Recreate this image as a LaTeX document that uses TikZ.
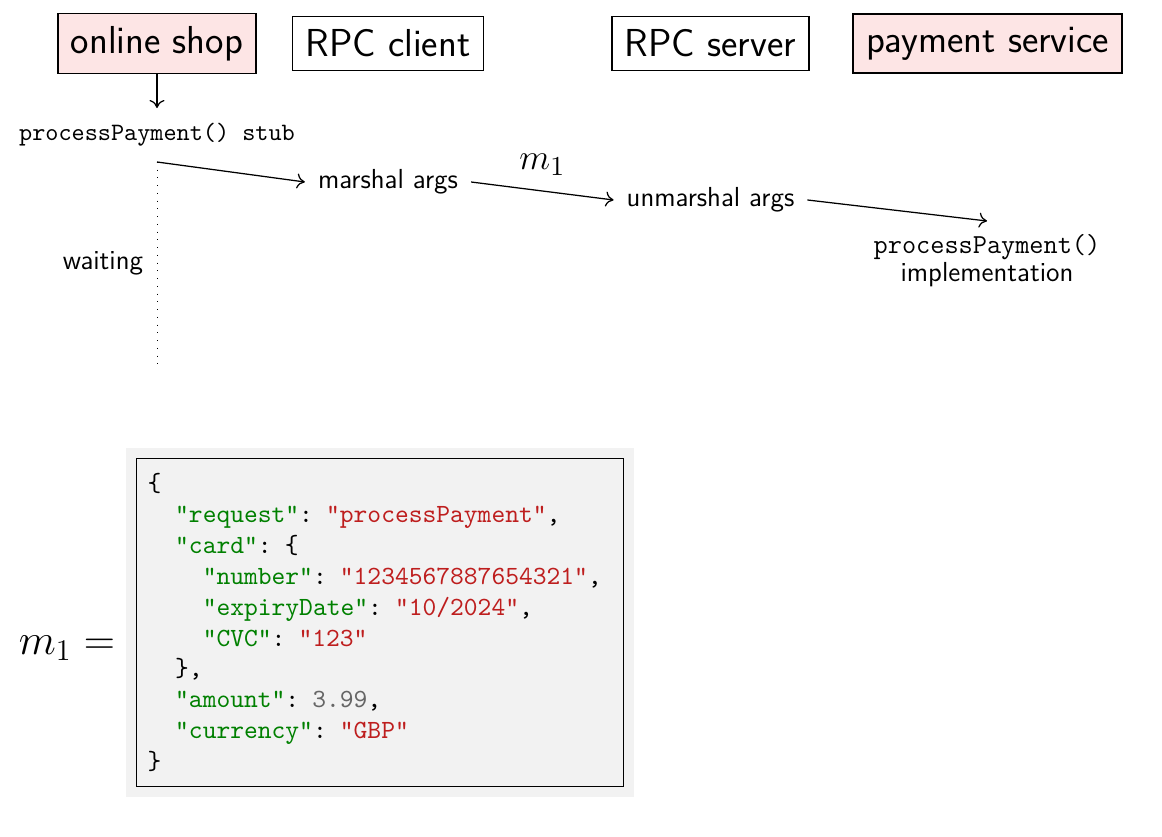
\documentclass[tikz,border=0pt]{standalone}
\usetikzlibrary{backgrounds,arrows.meta}
\definecolor{shoppink}{RGB}{253,229,229}
\definecolor{codebg}{RGB}{242,242,242}
\definecolor{keygreen}{RGB}{0,128,0}
\definecolor{strred}{RGB}{190,30,30}
\definecolor{numgray}{RGB}{102,102,102}
\newcommand\jkey[1]{\textcolor{keygreen}{#1}}
\newcommand\jstr[1]{\textcolor{strred}{#1}}
\newcommand\jnum[1]{\textcolor{numgray}{#1}}
\begin{document}
\begin{tikzpicture}[x=0.4pt,y=-0.4pt, line width=0.5pt,
  arr/.style={-{To[length=3.2pt,width=6pt]}},
  bigbox/.style={draw, inner sep=5.2pt, font=\sffamily\fontsize{15.6}{18}\selectfont},
  smalltext/.style={font=\sffamily\fontsize{11}{13}\selectfont},
  stubtext/.style={font=\ttfamily\fontsize{10}{12}\selectfont},
  mathtext/.style={font=\fontsize{15}{18}\selectfont},
  bigmath/.style={font=\fontsize{16.6}{20}\selectfont},
  waitline/.style={line width=0.4pt, dash pattern=on 0.4pt off 2.7pt},
  codebox/.style={draw, fill=codebg, minimum width=194.8pt, minimum height=131.2pt,
    text width=186pt, inner xsep=4.4pt, align=left,
    font=\ttfamily\fontsize{10.5}{12.35}\selectfont}]
\useasboundingbox (0,0) rectangle (1162,837);

\node[bigbox, fill=shoppink] (shop) at (157,43.5) {online shop};
\node[bigbox] (client) at (388,43.5) {RPC client};
\node[bigbox] (server) at (710.5,43.5) {RPC server};
\node[bigbox, fill=shoppink] (pay) at (987.5,43.5) {payment service};

\node[stubtext] (stub) at (157,135) {processPayment() stub};
\draw[arr, shorten >=2.6pt] (shop) -- (stub);

\coordinate (c0) at (157,162);
\coordinate (c1) at (157,365);
\draw[waitline] (c0) -- (c1);
\node[smalltext, anchor=east] (wait) at (152,263) {waiting};

\node[smalltext, inner sep=5pt] (marshal) at (388,182) {marshal args};
\node[smalltext, inner sep=5pt] (unmarshal) at (710.5,200) {unmarshal args};
\node[smalltext, inner sep=5pt, align=center, anchor=north,
  font=\sffamily\fontsize{11}{11.4}\selectfont] (impl) at (987,221)
  {\texttt{processPayment()}\\implementation};

\draw[arr] (c0) -- (marshal.west);
\draw[arr] (marshal.east) -- node[mathtext, above=2.8pt] (m1) {$m_1$} (unmarshal.west);
\draw[arr] (unmarshal.east) -- (impl.north);

\node[bigmath] (m1eq) at (67,648) {$m_1 =$};
\node[codebox, anchor=north west] (code) at (136,458) {%
\{\\
\phantom{xx}\jkey{"request"}: \jstr{"processPayment"},\\
\phantom{xx}\jkey{"card"}: \{\\
\phantom{xxxx}\jkey{"number"}: \jstr{"1234567887654321"},\\
\phantom{xxxx}\jkey{"expiryDate"}: \jstr{"10/2024"},\\
\phantom{xxxx}\jkey{"CVC"}: \jstr{"123"}\\
\phantom{xx}\},\\
\phantom{xx}\jkey{"amount"}: \jnum{3.99},\\
\phantom{xx}\jkey{"currency"}: \jstr{"GBP"}\\
\}};
\begin{scope}[on background layer]
  \fill[codebg] ([shift={(-10,-10)}]code.north west) rectangle ([shift={(10,10)}]code.south east);
\end{scope}
\end{tikzpicture}
\end{document}
